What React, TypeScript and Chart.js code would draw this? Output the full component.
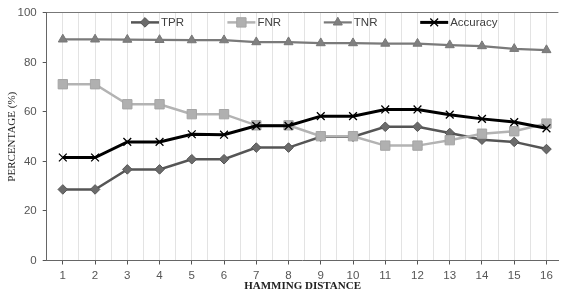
import React, { useEffect, useRef } from "react";
import { Chart, registerables } from "chart.js";
import { drawPoint } from "chart.js/helpers";

Chart.register(...registerables);

const categories = [1, 2, 3, 4, 5, 6, 7, 8, 9, 10, 11, 12, 13, 14, 15, 16];
const tprValues = [28.7, 28.7, 36.8, 36.8, 40.9, 40.9, 45.6, 45.6, 50.0, 50.0, 54.0, 54.0, 51.5, 48.8, 47.9, 45.0];
const fnrValues = [71.2, 71.2, 63.1, 63.1, 59.1, 59.1, 54.6, 54.6, 50.2, 50.2, 46.4, 46.4, 48.6, 51.2, 52.2, 55.3];
const tnrValues = [89.3, 89.3, 89.2, 89.1, 89.0, 89.0, 88.2, 88.2, 87.8, 87.8, 87.6, 87.6, 87.0, 86.6, 85.5, 85.0];
const accValues = [41.6, 41.6, 47.9, 47.9, 51.0, 50.8, 54.4, 54.4, 58.3, 58.3, 61.0, 61.0, 58.9, 57.2, 55.9, 53.4];
const yTicks = [0, 20, 40, 60, 80, 100];

const seriesNames = ["TPR", "FNR", "TNR", "Accuracy"];

const legendPlugin = {
  id: "customLegend",
  afterDraw(chart: any) {
    const ctx = chart.ctx;
    const y = chart.chartArea.top + 9.5;
    const startX = 131;
    const step = 96.4;
    const lineLen = 28;
    chart.data.datasets.forEach((ds: any, i: number) => {
      const x = startX + i * step;
      ctx.save();
      ctx.strokeStyle = ds.borderColor;
      ctx.lineWidth = ds.borderWidth;
      ctx.beginPath();
      ctx.moveTo(x, y);
      ctx.lineTo(x + lineLen, y);
      ctx.stroke();
      ctx.fillStyle = ds.pointBackgroundColor;
      ctx.strokeStyle = ds.pointBorderColor;
      ctx.lineWidth = ds.pointBorderWidth;
      drawPoint(ctx, { pointStyle: ds.pointStyle, rotation: 0, radius: ds.pointRadius, borderWidth: ds.pointBorderWidth }, x + lineLen / 2, y);
      ctx.fillStyle = "#404040";
      ctx.font = "11.5px 'Liberation Sans', Arial, sans-serif";
      ctx.textBaseline = "middle";
      ctx.textAlign = "left";
      ctx.fillText(ds.label, x + lineLen + 2, y + 0.5);
      ctx.restore();
    });
  },
};

export default function App() {
  const ref = useRef<HTMLCanvasElement | null>(null);
  useEffect(() => {
    document.body.style.margin = "0";
    if (!ref.current) return;
    const mk = (vals: number[]) => categories.map((c, i) => ({ x: c, y: vals[i] }));
    const chart = new Chart(ref.current, {
      type: "line",
      data: {
        datasets: [
          {
            label: seriesNames[0],
            data: mk(tprValues),
            borderColor: "#555555",
            borderWidth: 2.5,
            pointStyle: "rectRot",
            pointRadius: 4.8,
            pointBackgroundColor: "#6b6b6b",
            pointBorderColor: "#555555",
            pointBorderWidth: 1,
            order: 4,
          },
          {
            label: seriesNames[1],
            data: mk(fnrValues),
            borderColor: "#b3b3b3",
            borderWidth: 2.5,
            pointStyle: "rect",
            pointRadius: 6.6,
            pointBackgroundColor: "#b0b0b0",
            pointBorderColor: "#a5a5a5",
            pointBorderWidth: 1,
            order: 3,
          },
          {
            label: seriesNames[2],
            data: mk(tnrValues),
            borderColor: "#7a7a7a",
            borderWidth: 2.2,
            pointStyle: "triangle",
            pointRadius: 5.2,
            pointBackgroundColor: "#808080",
            pointBorderColor: "#777777",
            pointBorderWidth: 1,
            order: 2,
          },
          {
            label: seriesNames[3],
            data: mk(accValues),
            borderColor: "#000000",
            borderWidth: 3,
            pointStyle: "crossRot",
            pointRadius: 5.5,
            pointBackgroundColor: "#000000",
            pointBorderColor: "#000000",
            pointBorderWidth: 1.3,
            order: 1,
          },
        ],
      },
      options: {
        responsive: false,
        animation: false,
        layout: { padding: { top: 12, right: 0, left: 0, bottom: 0 } },
        plugins: { legend: { display: false }, tooltip: { enabled: false } },
        scales: {
          x: {
            type: "linear",
            min: 0.5,
            max: 16.37,
            afterFit: (s: any) => {
              s.height = 33.5;
            },
            afterBuildTicks: (s: any) => {
              const t: any[] = [];
              for (let v = 0.5; v <= 16.37; v += 0.5) t.push({ value: v });
              s.ticks = t;
            },
            grid: {
              color: (c: any) => (c.tick && c.tick.value === 0.5 ? "transparent" : "#e3e3e3"),
              tickColor: (c: any) => (c.tick && Number.isInteger(c.tick.value) ? "#555555" : "transparent"),
              tickLength: 4,
              lineWidth: 1,
            },
            border: { display: true, color: "#666666", width: 1 },
            ticks: {
              autoSkip: false,
              maxRotation: 0,
              padding: 4,
              color: "#555555",
              font: { family: "'Liberation Sans', Arial, sans-serif", size: 11.5 },
              callback: (v: any) => (Number.isInteger(v) ? String(v) : ""),
            },
            title: {
              display: true,
              text: "HAMMING DISTANCE",
              color: "#222222",
              font: { family: "'Liberation Serif', 'Times New Roman', serif", size: 11, weight: "bold" },
              padding: { top: 0, bottom: 1 },
            },
          },
          y: {
            min: 0,
            max: 100,
            afterFit: (s: any) => {
              s.width = 46.7;
            },
            afterBuildTicks: (s: any) => {
              s.ticks = yTicks.map((v) => ({ value: v }));
            },
            grid: {
              color: (c: any) => (c.tick && c.tick.value === 100 ? "#777777" : "transparent"),
              tickColor: "#555555",
              tickLength: 4,
            },
            border: { display: true, color: "#666666", width: 1 },
            ticks: {
              padding: 6,
              color: "#555555",
              font: { family: "'Liberation Sans', Arial, sans-serif", size: 11.5 },
            },
            title: {
              display: true,
              text: "PERCENTAGE (%)",
              color: "#222222",
              font: { family: "'Liberation Serif', 'Times New Roman', serif", size: 11 },
              padding: { top: 6, bottom: 0 },
            },
          },
        },
      },
      plugins: [legendPlugin],
    });
    return () => chart.destroy();
  }, []);
  return (
    <div style={{ width: 566, height: 294, background: "#fff" }}>
      <canvas ref={ref} width={566} height={294} style={{ display: "block" }} />
    </div>
  );
}
